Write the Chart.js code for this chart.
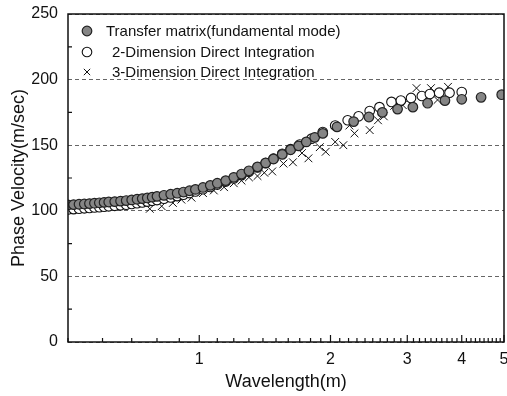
<!DOCTYPE html>
<html>
<head>
<meta charset="utf-8">
<script src="https://cdn.jsdelivr.net/npm/chart.js@4"></script>
<style>
  html, body { margin: 0; padding: 0; background: #fff; overflow: hidden; }
  #wrap { position: absolute; left: 0; top: 0; width: 512px; height: 396px; }
</style>
</head>
<body>
<div id="wrap"><canvas id="chart"></canvas></div>
<script>
// Transfer matrix (fundamental mode)
const tmLambda = [0.50, 0.515, 0.53, 0.545, 0.56, 0.575, 0.59, 0.605, 0.62, 0.64, 0.66, 0.68, 0.70, 0.72, 0.74, 0.76, 0.78, 0.80,
  0.83, 0.86, 0.89, 0.92, 0.95, 0.98, 1.02, 1.06, 1.10, 1.15, 1.20, 1.25, 1.30, 1.36, 1.42, 1.48, 1.55, 1.62, 1.69, 1.76,
  1.84, 1.92, 2.07, 2.26, 2.45, 2.63, 2.85, 3.09, 3.34, 3.66, 4.00, 4.43, 4.94];
const tmVelocity = [104.5, 104.7, 105.0, 105.2, 105.5, 105.8, 106.1, 106.4, 106.7, 107.0, 107.4, 107.8, 108.3, 108.8, 109.3, 109.8, 110.4, 111.0,
  111.8, 112.6, 113.4, 114.3, 115.3, 116.3, 117.8, 119.4, 121.0, 123.0, 125.5, 128.0, 130.5, 133.5, 136.5, 139.5, 143.0, 146.5, 149.5, 152.5,
  156.0, 159.0, 164.0, 168.0, 171.5, 175.0, 177.5, 179.0, 182.0, 184.0, 185.0, 186.5, 188.5];

// 2-Dimension direct integration
const di2Lambda = [0.50, 0.515, 0.53, 0.545, 0.56, 0.575, 0.59, 0.605, 0.62, 0.64, 0.66, 0.68, 0.70, 0.72, 0.74, 0.76, 0.78, 0.80,
  0.83, 0.86, 0.89, 0.92, 0.95, 0.98, 1.02, 1.06, 1.10, 1.15, 1.20, 1.25, 1.30, 1.36, 1.42, 1.48, 1.55, 1.62, 1.70, 1.81,
  1.92, 2.05, 2.19, 2.32, 2.46, 2.59, 2.76, 2.90, 3.06, 3.24, 3.38, 3.55, 3.75, 4.00];
const di2Velocity = [101.0, 101.3, 101.6, 101.9, 102.2, 102.5, 102.8, 103.1, 103.4, 103.8, 104.2, 104.7, 105.2, 105.8, 106.4, 107.0, 107.6, 108.2,
  109.2, 110.2, 111.2, 112.3, 113.5, 114.8, 116.5, 118.2, 120.0, 122.3, 124.7, 127.2, 129.8, 133.0, 136.3, 139.7, 143.5, 147.0, 150.5, 155.0,
  160.0, 165.0, 169.0, 172.0, 176.0, 179.0, 183.0, 184.0, 186.0, 187.5, 189.0, 190.0, 190.0, 190.5];

// 3-Dimension direct integration
const di3Lambda = [0.77, 0.82, 0.87, 0.91, 0.96, 1.02, 1.08, 1.14, 1.20, 1.25, 1.30, 1.36, 1.41, 1.47, 1.56, 1.64, 1.72, 1.78,
  1.89, 1.95, 2.05, 2.14, 2.21, 2.27, 2.46, 2.57, 2.65, 2.80, 2.93, 3.15, 3.40, 3.52, 3.72];
const di3Velocity = [101.5, 103.5, 106.0, 108.5, 110.0, 113.5, 115.5, 118.0, 121.0, 123.0, 125.5, 126.5, 129.0, 130.0, 136.0, 137.0, 144.0, 140.0,
  148.5, 145.0, 152.5, 150.0, 165.0, 159.0, 161.5, 169.0, 172.0, 180.0, 180.5, 193.5, 193.5, 184.5, 194.5];

const seriesNames = ['Transfer matrix(fundamental mode)', '2-Dimension Direct Integration', '3-Dimension Direct Integration'];
const xLabelTicks = [1, 2, 3, 4, 5];
const yTicks = [0, 50, 100, 150, 200, 250];
const yMinorTicks = [25, 75, 125, 175, 225];
const xMinorTicks = [];
for (let i = 5; i <= 50; i++) xMinorTicks.push(i / 10);

const toPoints = (xs, ys) => xs.map((x, i) => ({ x: x, y: ys[i] }));
const FONT = '"Liberation Sans", Arial, sans-serif';

// box round the plot + inward tick marks
const frame = {
  id: 'frame',
  afterDraw(chart) {
    const { ctx, chartArea: a, scales } = chart;
    ctx.save();
    ctx.strokeStyle = '#111';
    ctx.lineWidth = 1.5;
    ctx.strokeRect(a.left, a.top, a.right - a.left, a.bottom - a.top);
    ctx.lineWidth = 1.2;
    ctx.beginPath();
    xMinorTicks.forEach(v => {
      const px = scales.x.getPixelForValue(v);
      const len = Number.isInteger(v) ? 7 : 4;
      ctx.moveTo(px, a.bottom);
      ctx.lineTo(px, a.bottom - len);
    });
    yMinorTicks.forEach(v => {
      const py = scales.y.getPixelForValue(v);
      ctx.moveTo(a.left, py);
      ctx.lineTo(a.left + 4, py);
    });
    ctx.stroke();
    ctx.restore();
  }
};

// legend drawn inside the plot, top-left
const insideLegend = {
  id: 'insideLegend',
  afterDatasetsDraw(chart) {
    const { ctx, chartArea: a } = chart;
    const rowY = [17, 38, 58];
    const textX = [38, 44, 44];
    ctx.save();
    ctx.font = '15px ' + FONT;
    ctx.textBaseline = 'middle';
    chart.data.datasets.forEach((ds, i) => {
      const cx = a.left + 19, cy = a.top + rowY[i];
      ctx.fillStyle = ds.backgroundColor;
      ctx.strokeStyle = ds.borderColor;
      ctx.lineWidth = ds.borderWidth;
      const r = ds.pointStyle === 'crossRot' ? 4.5 : 4.8;
      Chart.helpers.drawPoint(ctx, { pointStyle: ds.pointStyle, radius: r, borderWidth: ds.borderWidth, rotation: 0 }, cx, cy);
      ctx.fillStyle = '#111';
      ctx.fillText(ds.label, a.left + textX[i], cy + 1);
    });
    ctx.restore();
  }
};

new Chart(document.getElementById('chart').getContext('2d'), {
  type: 'scatter',
  data: {
    datasets: [
      {
        label: seriesNames[0],
        data: toPoints(tmLambda, tmVelocity),
        pointStyle: 'circle', pointRadius: 4.8,
        backgroundColor: '#858585', borderColor: '#222', borderWidth: 1.2
      },
      {
        label: seriesNames[1],
        data: toPoints(di2Lambda, di2Velocity),
        pointStyle: 'circle', pointRadius: 4.8,
        backgroundColor: '#fff', borderColor: '#111', borderWidth: 1.1
      },
      {
        label: seriesNames[2],
        data: toPoints(di3Lambda, di3Velocity),
        pointStyle: 'crossRot', pointRadius: 5.5,
        backgroundColor: '#111', borderColor: '#111', borderWidth: 1
      }
    ]
  },
  options: {
    responsive: true,
    maintainAspectRatio: false,
    animation: false,
    layout: { padding: { left: 6, right: 8, top: 14, bottom: 1 } },
    plugins: {
      tooltip: { enabled: false },
      legend: { display: false }
    },
    scales: {
      x: {
        type: 'logarithmic',
        min: 0.5, max: 5,
        afterBuildTicks: s => { s.ticks = xLabelTicks.map(v => ({ value: v })); },
        afterFit: s => { s.height = 53; s.paddingLeft = 0; s.paddingRight = 0; },
        grid: { display: false, drawTicks: false },
        border: { display: false },
        ticks: {
          color: '#111', padding: 8, maxRotation: 0, autoSkip: false,
          font: { family: FONT, size: 16 },
          callback: v => String(v)
        },
        title: { display: true, text: 'Wavelength(m)', color: '#111', font: { family: FONT, size: 18 }, padding: { top: 4, bottom: 2 } }
      },
      y: {
        min: 0, max: 250,
        afterBuildTicks: s => { s.ticks = yTicks.map(v => ({ value: v })); },
        afterFit: s => { s.width = 62; s.paddingTop = 0; s.paddingBottom = 0; },
        grid: { color: '#666', lineWidth: 1, drawTicks: false },
        border: { display: false, dash: [4, 3] },
        ticks: { color: '#111', padding: 10, font: { family: FONT, size: 16 } },
        title: { display: true, text: 'Phase Velocity(m/sec)', color: '#111', font: { family: FONT, size: 18 }, padding: { top: 2, bottom: 4 } }
      }
    }
  },
  plugins: [frame, insideLegend]
});
</script>
</body>
</html>
